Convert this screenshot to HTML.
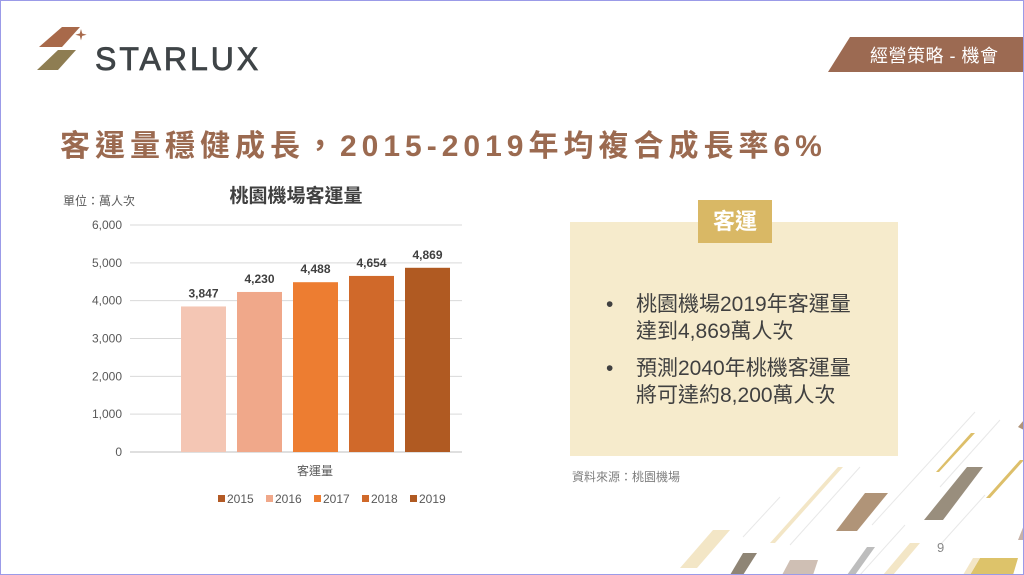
<!DOCTYPE html>
<html><head><meta charset="utf-8"><style>
*{margin:0;padding:0;box-sizing:border-box}
body{width:1024px;height:575px;overflow:hidden;background:#fff;position:relative;font-family:"Liberation Sans","Noto Sans CJK TC",sans-serif}
.frame{position:absolute;inset:0;border:1px solid #9b9be8;pointer-events:none;z-index:10}
.abs{position:absolute}
</style></head><body>
<div class="frame"></div>
<svg class="abs" style="left:0;top:0" width="1024" height="575">
  <g>
    <polygon points="62,27 80,27 62,47 39,47" fill="#a8694a"/>
    <polygon points="58,50 76,50 58,70 37,70" fill="#8e7d52"/>
    <path d="M81,29 l1.2,4.5 4.5,1.2 -4.5,1.2 -1.2,4.5 -1.2,-4.5 -4.5,-1.2 4.5,-1.2z" fill="#a8694a"/>
  </g>
  <text x="95" y="70" font-family="Liberation Sans,sans-serif" font-size="32" fill="#3f4447" letter-spacing="3" stroke="#3f4447" stroke-width="0.8">STARLUX</text>
  <polygon points="850,37 1024,37 1024,72 828,72" fill="#9c6a52"/>
  <text x="870" y="62" font-size="18" fill="#fff" letter-spacing="0.5" font-family="Liberation Sans,Noto Sans CJK TC,sans-serif">經營策略 - 機會</text>
  <g>
    <line x1="975" y1="412" x2="872" y2="525" stroke="#e8e8e8"/>
    <line x1="1000" y1="420" x2="940" y2="487" stroke="#e8e8e8"/>
    <line x1="860" y1="467" x2="790" y2="545" stroke="#e8e8e8"/>
    <line x1="780" y1="497" x2="743" y2="537" stroke="#e8e8e8"/>
    <line x1="985" y1="495" x2="940" y2="545" stroke="#e8e8e8"/>
    <line x1="905" y1="525" x2="860" y2="575" stroke="#e8e8e8"/>
    <polygon points="838,467 843,467 775,543 770,543" fill="#f3e6c6"/>
    <polygon points="865,493 888,493 857,531 836,531" fill="#b09478"/>
    <polygon points="967,467 983,467 943,520 924,520" fill="#998e7d"/>
    <polygon points="971,433 975,433 939,472 936,472" fill="#ddbf6a"/>
    <polygon points="1020,460 1024,460 990,498 986,498" fill="#ddbf6a"/>
    <polygon points="1018,427 1024,420 1024,430" fill="#b09478"/>
    <polygon points="1024,525 1024,540 1018,540" fill="#c7b2a8"/>
    <polygon points="713,530 730,530 697,568 680,568" fill="#f3e6c6"/>
    <polygon points="743,553 757,553 743,575 730,575" fill="#8f8575"/>
    <polygon points="790,560 818,560 813,575 782,575" fill="#cfbfb4"/>
    <polygon points="867,547 875,547 855,575 847,575" fill="#bdbdbd"/>
    <polygon points="910,543 920,543 893,575 883,575" fill="#f3e6c6"/>
    <polygon points="980,558 1018,558 1013,575 970,575" fill="#ddc36a"/>
    <polygon points="973,558 980,558 970,575 963,575" fill="#f3e6c6"/>
  </g>
</svg>
<div class="abs" style="left:60px;top:121px;font-size:30px;font-weight:bold;color:#9b6a50;letter-spacing:5px;white-space:nowrap">客運量穩健成長，2015-2019年均複合成長率6%</div>

<svg class="abs" style="left:0;top:0" width="560" height="575" id="chart">
  <text x="63" y="205" font-size="12" fill="#595959">單位：萬人次</text>
  <text x="296" y="202" font-size="19" font-weight="bold" fill="#404040" text-anchor="middle">桃園機場客運量</text>
  <text x="315" y="475" font-size="12" fill="#595959" text-anchor="middle">客運量</text>
</svg>

<div class="abs" style="left:570px;top:222px;width:328px;height:234px;background:#f6ebcc"></div>
<div class="abs" style="left:698px;top:200px;width:74px;height:43px;background:#d9b865;color:#fff;font-size:22px;line-height:43px;text-align:center;font-weight:bold">客運</div>
<div class="abs" style="left:606px;top:291px;font-size:21px;color:#404040;line-height:27px">
  <div style="display:flex"><span style="width:30px">•</span><span>桃園機場2019年客運量<br>達到4,869萬人次</span></div>
  <div style="display:flex;margin-top:10px"><span style="width:30px">•</span><span>預測2040年桃機客運量<br>將可達約8,200萬人次</span></div>
</div>
<div class="abs" style="left:572px;top:468px;font-size:12px;color:#7f7f7f">資料來源：桃園機場</div>
<div class="abs" style="left:937px;top:540px;font-size:13px;color:#888">9</div>

<script>
const years=["2015","2016","2017","2018","2019"];
const values=[3847,4230,4488,4654,4869];
const yTicks=[0,1000,2000,3000,4000,5000,6000];
const colors=["#f4c6b4","#f0a88a","#ed7d31","#d0692a","#b05a22"];
const legendColors=["#b35a25","#f0a88a","#ed7d31","#d0692a","#b05a22"];
const NS="http://www.w3.org/2000/svg";
const svg=document.getElementById('chart');
const y0=452,yTop=225,yMax=6000;
const yS=v=>y0-(v/yMax)*(y0-yTop);
const xStart=181,step=56,bw=45;
function mk(t,a){const e=document.createElementNS(NS,t);for(const k in a)e.setAttribute(k,a[k]);svg.appendChild(e);return e;}
yTicks.forEach(t=>{
  const l=mk('line',{x1:130,x2:462,y1:yS(t),y2:yS(t),stroke:t===0?'#bfbfbf':'#d9d9d9'});
  
  
  const tx=mk('text',{x:122,y:yS(t)+4,'font-size':12,fill:'#595959','text-anchor':'end'});
  tx.textContent=t.toLocaleString('en-US');
  
  
});
values.forEach((v,i)=>{
  const x=xStart+i*step;
  const r=mk('rect',{x:x,y:yS(v),width:bw,height:y0-yS(v),fill:colors[i]});
  
  
  const t=mk('text',{x:x+bw/2,y:yS(v)-9,'font-size':12,'font-weight':'bold',fill:'#404040','text-anchor':'middle'});
  t.textContent=v.toLocaleString('en-US');
  
  
  const lx=218+i*48;
  const m=mk('rect',{x:lx,y:495,width:7,height:7,fill:legendColors[i]});
  
  
  const lt=mk('text',{x:lx+9,y:503,'font-size':12,fill:'#595959'});
  lt.textContent=years[i];
  
  
});
</script>
</body></html>
